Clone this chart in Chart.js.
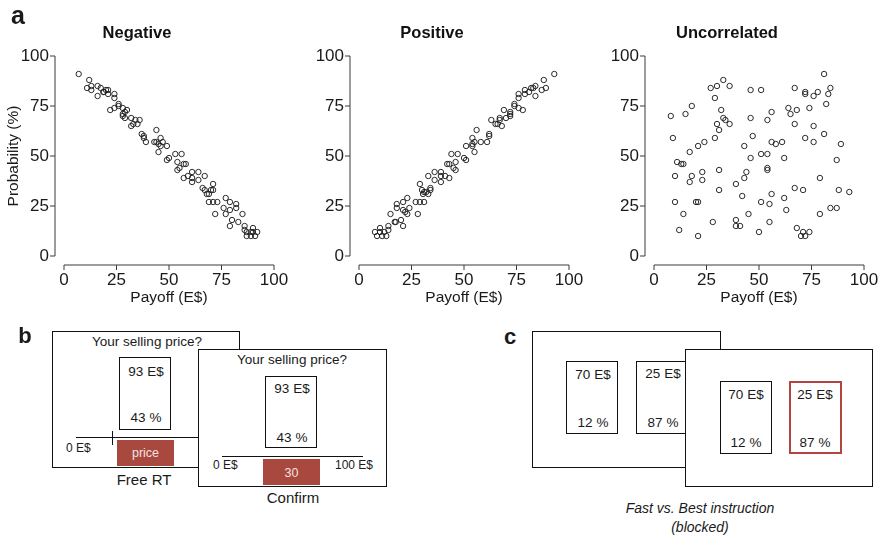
<!DOCTYPE html>
<html><head><meta charset="utf-8">
<script src="https://cdn.jsdelivr.net/npm/chart.js@4.4.0/dist/chart.umd.min.js"></script>
<style>
html,body{margin:0;padding:0;background:#fff;overflow:hidden;}
#wrap{position:relative;width:882px;height:537px;font-family:"Liberation Sans",Arial,sans-serif;color:#1a1a1a;}
canvas{position:absolute;top:0;}
.box{position:absolute;border:1.3px solid #111;background:#fff;box-sizing:border-box;}
.red{position:absolute;background:#a8483f;}
.hl{position:absolute;height:0;border-top:1.3px solid #111;}
.vl{position:absolute;width:0;border-left:1.3px solid #111;}
.t{position:absolute;transform:translate(-50%,-50%);white-space:nowrap;line-height:1;font-size:13.5px;}
.l{position:absolute;transform:translate(0,-50%);white-space:nowrap;line-height:1;font-size:12px;}
.r{position:absolute;transform:translate(-100%,-50%);white-space:nowrap;line-height:1;font-size:12px;}
.lab{position:absolute;transform:translate(-50%,-50%);font-weight:bold;line-height:1;}
</style></head><body><div id="wrap">
<canvas id="c1" width="295" height="310" style="left:0"></canvas>
<canvas id="c2" width="295" height="310" style="left:295px"></canvas>
<canvas id="c3" width="292" height="310" style="left:590px"></canvas>
<div class="lab" style="left:18px;top:15px;font-size:25px;">a</div>

<!-- panel b -->
<div class="lab" style="left:25px;top:336px;font-size:22px;">b</div>
<div class="box" style="left:52px;top:331px;width:188px;height:137px;"></div>
<div class="t" style="left:147px;top:342px;">Your selling price?</div>
<div class="box" style="left:119px;top:357px;width:52px;height:73px;"></div>
<div class="t" style="left:146px;top:372px;">93 E$</div>
<div class="t" style="left:146px;top:418px;">43 %</div>
<div class="hl" style="left:76px;top:437px;width:130px;"></div>
<div class="vl" style="left:112px;top:431px;height:14px;"></div>
<div class="l" style="left:66px;top:448px;">0 E$</div>
<div class="red" style="left:117px;top:440px;width:57px;height:26px;"></div>
<div class="t" style="left:145.5px;top:453px;font-size:12.5px;color:#f3e3e1;">price</div>
<div class="t" style="left:144px;top:479px;font-size:15px;">Free RT</div>
<div class="box" style="left:198px;top:349px;width:189px;height:138px;"></div>
<div class="t" style="left:292px;top:360px;">Your selling price?</div>
<div class="box" style="left:265px;top:376px;width:52px;height:72px;"></div>
<div class="t" style="left:292px;top:389px;">93 E$</div>
<div class="t" style="left:292px;top:438px;">43 %</div>
<div class="hl" style="left:222px;top:455.5px;width:141px;"></div>
<div class="l" style="left:213px;top:465px;">0 E$</div>
<div class="r" style="left:373px;top:465px;">100 E$</div>
<div class="red" style="left:263px;top:459px;width:57px;height:26px;"></div>
<div class="t" style="left:291.5px;top:473px;font-size:12.5px;color:#f3e3e1;">30</div>
<div class="t" style="left:293px;top:497px;font-size:15px;">Confirm</div>

<!-- panel c -->
<div class="lab" style="left:510px;top:337px;font-size:22px;">c</div>
<div class="box" style="left:532px;top:331px;width:189px;height:137px;"></div>
<div class="box" style="left:566px;top:361px;width:52px;height:73px;"></div>
<div class="t" style="left:593px;top:375px;">70 E$</div>
<div class="t" style="left:593px;top:423px;">12 %</div>
<div class="box" style="left:636px;top:361px;width:52px;height:73px;"></div>
<div class="t" style="left:663px;top:374px;">25 E$</div>
<div class="t" style="left:663px;top:423px;">87 %</div>
<div class="box" style="left:685px;top:349px;width:188px;height:138px;"></div>
<div class="box" style="left:720px;top:381px;width:52px;height:73px;"></div>
<div class="t" style="left:746px;top:395px;">70 E$</div>
<div class="t" style="left:746px;top:443px;">12 %</div>
<div class="box" style="left:789px;top:381px;width:53px;height:73px;border:2px solid #b0463f;"></div>
<div class="t" style="left:815px;top:395px;">25 E$</div>
<div class="t" style="left:815px;top:443px;">87 %</div>
<div class="t" style="left:700px;top:508px;font-size:14px;font-style:italic;">Fast vs. Best instruction</div>
<div class="t" style="left:700px;top:527px;font-size:14px;font-style:italic;">(blocked)</div>
</div>
<script>
const tickVals = [0, 25, 50, 75, 100];
const xTitle = 'Payoff (E$)';
const yTitle = 'Probability (%)';
const chartTitles = ['Negative', 'Positive', 'Uncorrelated'];

const negX = [7,12,11,13,13,16,16,17.5,18.7,20,21,21,19,24,24,22,24,26,26,28,28,28,29,30,29,32,32,33,34,35,36,37,38,39,38,43,44,44,45,46,46,45,47,49,49,50,53,56,54,54,55,57,58,57,59,61,61,61,64,64,67,66,67,68,69,70,71,71,69,71,73,72,76,77,77,79,79,80,79,82,82,83,85,86,86,87,87,89,90,90,91,92,89];
const negY = [91,88,84,85,83,85,80,84,82,83,83,81,82,81,79,73,74,76,75,74,71,70,72,73,69,69,65,66,68,66,68,61,60,57,59,57,63,57,52,59,55,56,57,55,48,49,51,51,47,43,44,46,46,39,40,42,39,37,42,38,40,34,33,31,31,33,33,36,27,27,27,21,24,29,21,27,23,18,15,26,24,17,21,15,13,12,10,10,14,12,10,12,12];

const posX = [7.6,8.6,10,10,11,12,13,14,14,15,17,17.5,18,18,20,21,21,21,23,23,24,22,27,28,29,29,30,30.5,31,31,32,33,34,33,34,36,36,39,39,39,41,42,43,43,44,46,46,47,45,50,51,51,54,54,54,55,55,56,58,61,62,62,63,65,66,67,67,68,69,70,72,72,72,74,74,76,76,76,78,79,79,81,82,83,84,84,87,88,89,93];
const posY = [12,10,14,12,10,12,10,13,15,21,17,17,26,24,18,27,23,15,29,21,24,22,27,21,36,27,33,31,27,32,32,31,33,40,34,42,38,42,40,37,40,46,46,39,51,47,43,51,44,49,48,55,59,55,56,57,52,63,57,57,60,61,68,66,66,68,69,65,73,69,71,72,70,75,76,74,79,81,73,83,81,82,84,84,80,85,83,88,84,91];

const uncX = [8,9,10,10,11,12,13,14,14,15,17,17,18,18,20,21,21,21,23,23,24,27,28,29,29,30,30,31,31,31,32,33,33,34,36,36,39,39,39,41,42,43,43,44,45,46,46,46,47,50,51,51,51,54,54,54,54,55,55,56,56,56,58,61,62,62,63,64,65,67,67,67,68,68,70,71,71,72,72,72,72,74,74,76,76,76,78,79,79,81,81,82,83,84,84,87,87,88,89,93];
const uncY = [70,59,40,27,47,13,46,46,21,71,52,37,75,40,27,27,55,10,42,38,57,84,17,79,59,85,66,63,43,33,73,88,69,68,85,66,36,18,15,15,30,55,39,42,21,83,69,49,60,12,83,51,27,68,51,44,43,26,17,72,57,31,56,57,49,29,23,74,71,84,66,34,73,14,10,33,12,82,81,59,10,74,12,80,65,57,82,39,21,91,61,76,81,84,24,48,24,33,56,32];

const FONT = '"Liberation Sans", Arial, sans-serif';
const INK = '#1a1a1a';

const detachedAxes = {
  id: 'detachedAxes',
  afterDraw(chart) {
    const {ctx, chartArea: a, scales: {x, y}} = chart;
    const gx = a.left - 9, gy = a.bottom + 9;
    ctx.save();
    ctx.strokeStyle = '#3a3a3a';
    ctx.lineWidth = 1;
    ctx.beginPath();
    ctx.moveTo(gx, y.getPixelForValue(y.min));
    ctx.lineTo(gx, y.getPixelForValue(y.max));
    y.ticks.forEach(t => { const p = y.getPixelForValue(t.value); ctx.moveTo(gx, p); ctx.lineTo(gx - 5, p); });
    ctx.moveTo(x.getPixelForValue(x.min), gy);
    ctx.lineTo(x.getPixelForValue(x.max), gy);
    x.ticks.forEach(t => { const p = x.getPixelForValue(t.value); ctx.moveTo(p, gy); ctx.lineTo(p, gy + 5); });
    ctx.stroke();
    ctx.restore();
  }
};

function makeChart(id, title, xs, ys, showY, rightPad) {
  new Chart(document.getElementById(id), {
    type: 'scatter',
    data: { datasets: [{
      data: xs.map((v, i) => ({x: v, y: ys[i]})),
      pointRadius: 2.7, pointHoverRadius: 2.7, pointStyle: 'circle',
      borderColor: '#222', borderWidth: 0.95, backgroundColor: 'rgba(0,0,0,0)'
    }]},
    options: {
      responsive: false, animation: false, events: [],
      layout: { padding: { top: 0, right: rightPad, left: 0, bottom: 0 } },
      plugins: {
        legend: { display: false }, tooltip: { enabled: false },
        title: { display: true, text: title, color: '#111',
          font: { family: FONT, size: 16.5, weight: 'bold' },
          padding: { top: 24, bottom: 12.2 } }
      },
      scales: {
        x: {
          type: 'linear', min: 0, max: 100,
          afterBuildTicks: s => { s.ticks = tickVals.map(v => ({value: v})); },
          afterFit: s => { s.height = 54; s.paddingLeft = 0; s.paddingRight = 0; },
          grid: { display: false, drawTicks: false }, border: { display: false },
          ticks: { padding: 14, color: INK, font: { family: FONT, size: 17 } },
          title: { display: true, text: xTitle, color: INK, font: { family: FONT, size: 15.5 }, padding: { top: 0, bottom: 2.5 } }
        },
        y: {
          type: 'linear', min: 0, max: 100,
          afterBuildTicks: s => { s.ticks = tickVals.map(v => ({value: v})); },
          afterFit: s => { s.width = 64; s.paddingTop = 0; s.paddingBottom = 0; },
          grid: { display: false, drawTicks: false }, border: { display: false },
          ticks: { padding: 15, color: INK, font: { family: FONT, size: 17 } },
          title: { display: showY, text: yTitle, color: INK, font: { family: FONT, size: 15.5 }, padding: { top: 4.7, bottom: 0 } }
        }
      }
    },
    plugins: [detachedAxes]
  });
}

makeChart('c1', chartTitles[0], negX, negY, true, 21);
makeChart('c2', chartTitles[1], posX, posY, false, 21);
makeChart('c3', chartTitles[2], uncX, uncY, false, 18);
</script>
</body></html>
